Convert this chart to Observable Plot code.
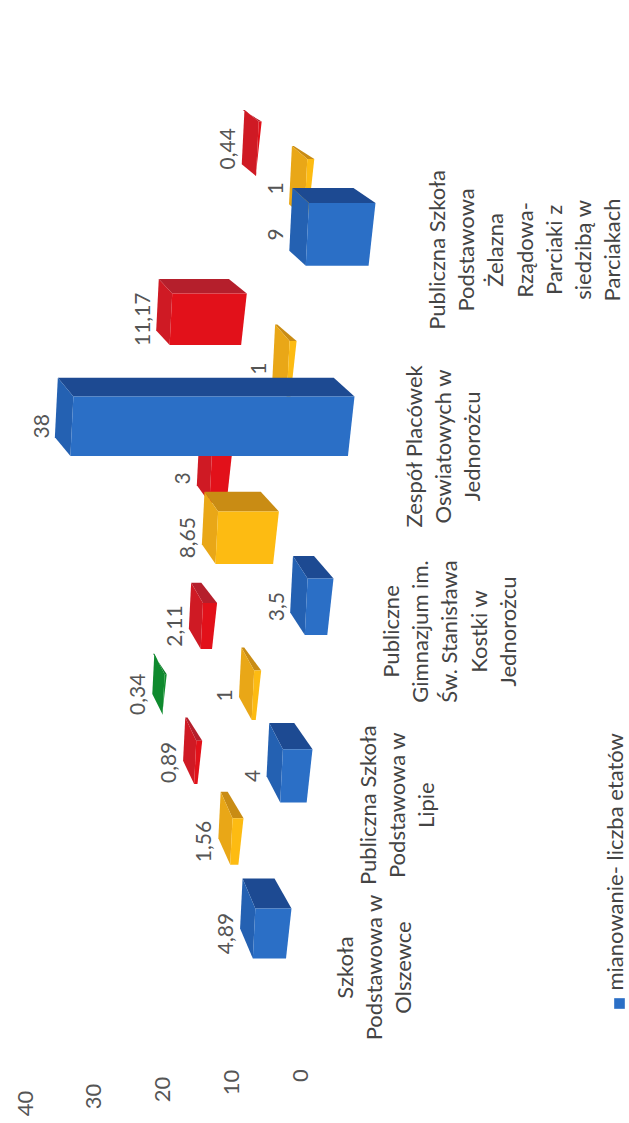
<!DOCTYPE html>
<html><head><meta charset="utf-8">
<script src="https://cdn.jsdelivr.net/npm/d3@7"></script>
<script src="https://cdn.jsdelivr.net/npm/@observablehq/plot@0.6"></script>
<style>html,body{margin:0;padding:0;background:#fff}svg{display:block}</style>
</head><body><div id="chart"></div>
<script>
// ---- data ----
const categories = [
  "Szkoła\nPodstawowa w\nOlszewce",
  "Publiczna Szkoła\nPodstawowa w\nLipie",
  "Publiczne\nGimnazjum im.\nŚw. Stanisława\nKostki w\nJednorożcu",
  "Zespół Placówek\nOswiatowych w\nJednorożcu",
  "Publiczna Szkoła\nPodstawowa\nŻelazna\nRządowa-\nParciaki z\nsiedzibą w\nParciakach"
];
const seriesBlue   = [4.89, 4, 3.5, 38, 9];
const seriesYellow = [1.56, 1, 8.65, 1, 1];
const seriesRed    = [0.89, 2.11, 3, 11.17, 0.44];
const seriesGreen  = [0.34, null, null, null, null];
const valueTicks = [0, 10, 20, 30, 40];
const legendLabel = "mianowanie- liczba etatów";

// ---- face colours per series: front, side, cap ----
const palette = [
  ["#2b6fc6", "#1d4a92", "#2461b2"],
  ["#fdbb12", "#c98c14", "#e9a717"],
  ["#e2111a", "#b51f2c", "#cf1a24"],
  ["#12902f", "#0e7a28", "#0f8a2e"]
];

// ---- 3D projection of the chart's floor (category c, series row s) ----
const perPxX = 1 / 6.875;                       // value units per pixel on the x scale
const depth = s => (1 - 0.86 ** s) / 0.14;      // rows converge with distance
const rowY = (c, s) => 933 - 152 * c - 5.7 * c * c - (92 - 11.5 * c) * depth(s);
const baseX = (c, s) => (9 - 21 * c + (48 + 3.3 * c) * depth(s)) * perPxX;
const faceW = (c, s) => (50 + 3.2 * c) * 0.93 ** s;
const unit = s => 1.076 * 0.95 ** s;            // value scale shrinks towards the back wall
const extrudeY = (c, s) => (30 - 3.75 * c) * 0.88 ** s;
const extrudeX = (c, s) => (17 + 1.25 * c) * 0.93 ** s * perPxX;

const rows = [seriesBlue, seriesYellow, seriesRed, seriesGreen];
const faces = [];
const labels = [];
const pushFace = (id, color, pts) => pts.forEach(([x, y]) => faces.push({id, color, x, y}));

for (let s = rows.length - 1; s >= 0; --s) {
  rows[s].forEach((v, c) => {
    if (v == null) return;
    const B = baseX(c, s), T = B + v * unit(s), W = faceW(c, s), Y = rowY(c, s);
    const yT = Y - W / 2, yB = Y + W / 2;
    const ex = extrudeX(c, s), ext = ex * 0.75, ey = extrudeY(c, s);
    const tiltB = 0.11 * W * perPxX, tiltT = 0.05 * W * perPxX;
    pushFace(`${s}-${c}-side`, palette[s][1],
      [[B, yT], [T, yT], [T + ext, yT - ey], [B + ex, yT - ey]]);
    pushFace(`${s}-${c}-cap`, palette[s][2],
      [[T, yT], [T + tiltT, yB], [T + tiltT + ext, yB - ey], [T + ext, yT - ey]]);
    pushFace(`${s}-${c}-front`, palette[s][0],
      [[B, yT], [T, yT], [T + tiltT, yB], [B + tiltB, yB]]);
    labels.push({x: T + ext + 16 * perPxX, y: Y, text: String(v).replace(".", ",")});
  });
}

const tickRows = valueTicks.map(t => ({t, y: 1075 + 0.7 * t}));
const catRows = categories.map((text, c) => ({
  text,
  x: (300 - (331.5 + 23 * c)) * perPxX,
  y: rowY(c, 0) + 34 - 4.6 * c
}));
const legendX = (300 - 615) * perPxX;

const chart = Plot.plot({
  width: 629, height: 1123,
  marginTop: 0, marginRight: 0, marginBottom: 0, marginLeft: 0,
  style: {fontFamily: "Lato, sans-serif", background: "#fff"},
  x: {domain: [0, 40], range: [300, 25], axis: null},
  y: {domain: [0, 1123], range: [0, 1123], axis: null},
  color: {type: "identity"},
  marks: [
    Plot.line(faces, {x: "x", y: "y", z: "id", fill: "color", stroke: "none"}),
    Plot.text(labels, {x: "x", y: "y", text: "text", rotate: -90, fontSize: 21, fill: "#555"}),
    Plot.text(tickRows, {x: "t", y: "y", text: d => String(d.t), rotate: -90, fontSize: 22, fill: "#555"}),
    Plot.text(catRows, {x: "x", y: "y", text: "text", rotate: -90, fontSize: 22, fill: "#444",
      lineAnchor: "top", lineHeight: 1.33}),
    Plot.dot([legendLabel], {x: () => legendX + 4 * -perPxX, y: () => 1003, symbol: "square", r: 6, fill: palette[0][0], stroke: "none"}),
    Plot.text([legendLabel], {x: () => legendX, y: () => 990, text: d => d, rotate: -90, textAnchor: "start", fontSize: 22, fill: "#444"})
  ]
});
document.getElementById("chart").append(chart);
</script></body></html>
